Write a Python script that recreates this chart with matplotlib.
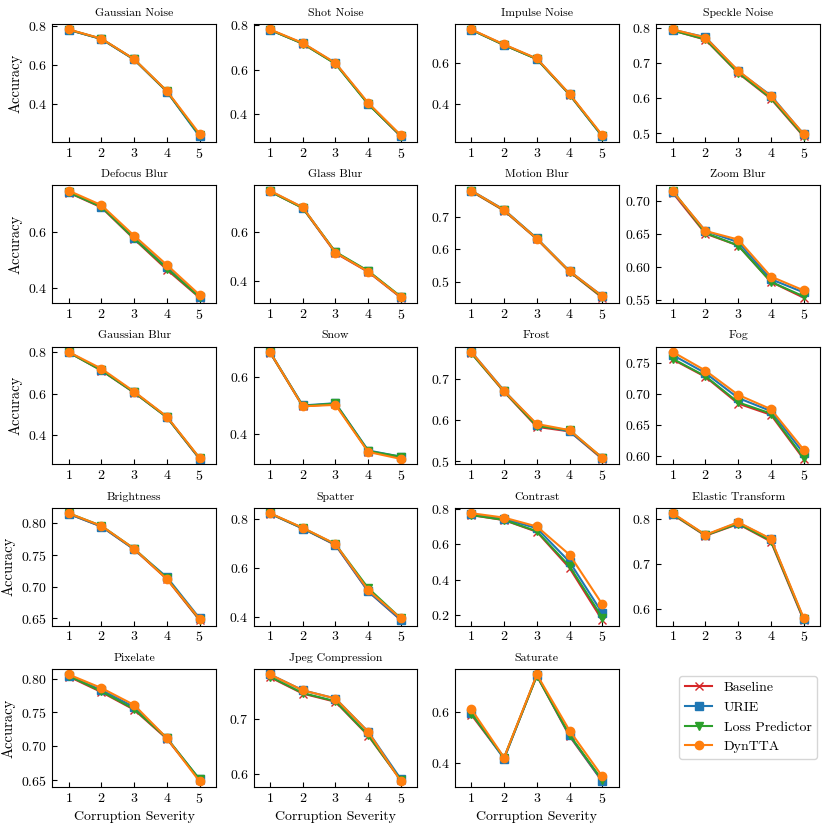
import matplotlib
matplotlib.use("Agg")
import matplotlib.pyplot as plt
import numpy as np

plt.rcParams['font.family'] = ['cmr10', 'DejaVu Serif']
plt.rcParams['mathtext.fontset'] = 'cm'
plt.rcParams['axes.formatter.use_mathtext'] = True
plt.rcParams['axes.unicode_minus'] = False

severity = [1, 2, 3, 4, 5]

titles = ["Gaussian Noise", "Shot Noise", "Impulse Noise", "Speckle Noise",
          "Defocus Blur", "Glass Blur", "Motion Blur", "Zoom Blur",
          "Gaussian Blur", "Snow", "Frost", "Fog",
          "Brightness", "Spatter", "Contrast", "Elastic Transform",
          "Pixelate", "Jpeg Compression", "Saturate"]

methods = ["Baseline", "URIE", "Loss Predictor", "DynTTA"]

# accuracy per corruption: rows = Baseline, URIE, Loss Predictor, DynTTA
gaussian_noise = [[0.778, 0.731, 0.626, 0.462, 0.235],
                  [0.778, 0.731, 0.626, 0.462, 0.232],
                  [0.779, 0.732, 0.627, 0.463, 0.238],
                  [0.780, 0.733, 0.628, 0.465, 0.245]]
shot_noise = [[0.780, 0.718, 0.628, 0.446, 0.300],
              [0.780, 0.719, 0.629, 0.447, 0.301],
              [0.780, 0.718, 0.627, 0.445, 0.302],
              [0.782, 0.721, 0.631, 0.451, 0.305]]
impulse_noise = [[0.768, 0.692, 0.622, 0.444, 0.237],
                 [0.768, 0.693, 0.623, 0.446, 0.236],
                 [0.768, 0.692, 0.622, 0.445, 0.238],
                 [0.770, 0.695, 0.625, 0.448, 0.242]]
speckle_noise = [[0.792, 0.766, 0.671, 0.598, 0.491],
                 [0.794, 0.773, 0.676, 0.607, 0.497],
                 [0.792, 0.767, 0.672, 0.600, 0.493],
                 [0.795, 0.772, 0.678, 0.605, 0.498]]
defocus_blur = [[0.743, 0.690, 0.576, 0.466, 0.365],
                [0.745, 0.693, 0.580, 0.474, 0.369],
                [0.744, 0.692, 0.578, 0.470, 0.367],
                [0.750, 0.698, 0.588, 0.483, 0.375]]
glass_blur = [[0.762, 0.695, 0.513, 0.437, 0.333],
              [0.763, 0.697, 0.516, 0.439, 0.335],
              [0.762, 0.695, 0.518, 0.441, 0.337],
              [0.765, 0.698, 0.515, 0.438, 0.335]]
motion_blur = [[0.780, 0.720, 0.632, 0.530, 0.450],
               [0.782, 0.723, 0.634, 0.532, 0.455],
               [0.781, 0.721, 0.633, 0.531, 0.452],
               [0.782, 0.722, 0.633, 0.532, 0.455]]
zoom_blur = [[0.712, 0.650, 0.632, 0.577, 0.553],
             [0.713, 0.654, 0.637, 0.581, 0.561],
             [0.715, 0.651, 0.632, 0.577, 0.555],
             [0.714, 0.654, 0.641, 0.585, 0.564]]
gaussian_blur = [[0.798, 0.711, 0.605, 0.487, 0.287],
                 [0.799, 0.714, 0.607, 0.488, 0.288],
                 [0.798, 0.712, 0.606, 0.487, 0.290],
                 [0.800, 0.720, 0.610, 0.490, 0.292]]
snow = [[0.688, 0.497, 0.505, 0.336, 0.316],
        [0.690, 0.500, 0.508, 0.340, 0.318],
        [0.689, 0.498, 0.507, 0.338, 0.318],
        [0.690, 0.497, 0.502, 0.335, 0.310]]
frost = [[0.762, 0.668, 0.583, 0.572, 0.505],
         [0.765, 0.671, 0.588, 0.572, 0.507],
         [0.762, 0.669, 0.585, 0.575, 0.507],
         [0.765, 0.670, 0.590, 0.575, 0.508]]
fog = [[0.755, 0.727, 0.684, 0.666, 0.595],
       [0.762, 0.733, 0.693, 0.672, 0.604],
       [0.756, 0.728, 0.686, 0.668, 0.597],
       [0.767, 0.737, 0.698, 0.675, 0.610]]
brightness = [[0.815, 0.795, 0.759, 0.712, 0.647],
              [0.815, 0.795, 0.759, 0.715, 0.650],
              [0.816, 0.796, 0.760, 0.713, 0.648],
              [0.816, 0.796, 0.760, 0.712, 0.649]]
spatter = [[0.820, 0.760, 0.693, 0.505, 0.388],
           [0.821, 0.760, 0.694, 0.505, 0.389],
           [0.821, 0.762, 0.696, 0.518, 0.395],
           [0.822, 0.763, 0.697, 0.510, 0.395]]
contrast = [[0.764, 0.736, 0.670, 0.465, 0.170],
            [0.768, 0.743, 0.690, 0.500, 0.210],
            [0.765, 0.737, 0.673, 0.475, 0.185],
            [0.775, 0.750, 0.700, 0.540, 0.260]]
elastic_transform = [[0.810, 0.763, 0.789, 0.750, 0.575],
                     [0.812, 0.764, 0.792, 0.755, 0.577],
                     [0.811, 0.764, 0.790, 0.752, 0.578],
                     [0.813, 0.765, 0.793, 0.756, 0.580]]
pixelate = [[0.803, 0.780, 0.754, 0.711, 0.650],
            [0.804, 0.783, 0.758, 0.712, 0.651],
            [0.804, 0.781, 0.755, 0.712, 0.651],
            [0.806, 0.786, 0.761, 0.712, 0.648]]
jpeg_compression = [[0.777, 0.747, 0.732, 0.670, 0.588],
                    [0.782, 0.753, 0.738, 0.677, 0.590],
                    [0.778, 0.748, 0.733, 0.671, 0.588],
                    [0.782, 0.753, 0.738, 0.677, 0.586]]
saturate = [[0.590, 0.418, 0.745, 0.505, 0.325],
            [0.598, 0.415, 0.748, 0.508, 0.326],
            [0.595, 0.420, 0.745, 0.510, 0.330],
            [0.612, 0.420, 0.750, 0.527, 0.345]]

all_data = [gaussian_noise, shot_noise, impulse_noise, speckle_noise,
            defocus_blur, glass_blur, motion_blur, zoom_blur,
            gaussian_blur, snow, frost, fog,
            brightness, spatter, contrast, elastic_transform,
            pixelate, jpeg_compression, saturate]

colors = ["#d62728", "#1f77b4", "#2ca02c", "#ff7f0e"]
markers = ["x", "s", "v", "o"]

fig, axes = plt.subplots(5, 4, figsize=(8.3, 8.3), dpi=100)
fig.subplots_adjust(left=0.063, right=0.988, top=0.971, bottom=0.052,
                    wspace=0.23, hspace=0.37)

for i, ax in enumerate(axes.flat):
    if i >= len(all_data):
        ax.axis("off")
        continue
    for j in range(4):
        ax.plot(severity, all_data[i][j], color=colors[j], marker=markers[j],
                markersize=6, linewidth=1.5, label=methods[j])
    ax.set_title(titles[i], fontsize=8.5)
    ax.set_xticks(severity)
    ax.set_xlim(0.5, 5.5)
    ax.tick_params(direction="in", labelsize=10)
    if i % 4 == 0:
        ax.set_ylabel("Accuracy", fontsize=10.5)
    if i >= 16:
        ax.set_xlabel("Corruption Severity", fontsize=10)

handles, labels = axes.flat[0].get_legend_handles_labels()
axes.flat[19].legend(handles, labels, loc="upper center", fontsize=10,
                     bbox_to_anchor=(0.56, 1.0))

plt.savefig("out.png")
